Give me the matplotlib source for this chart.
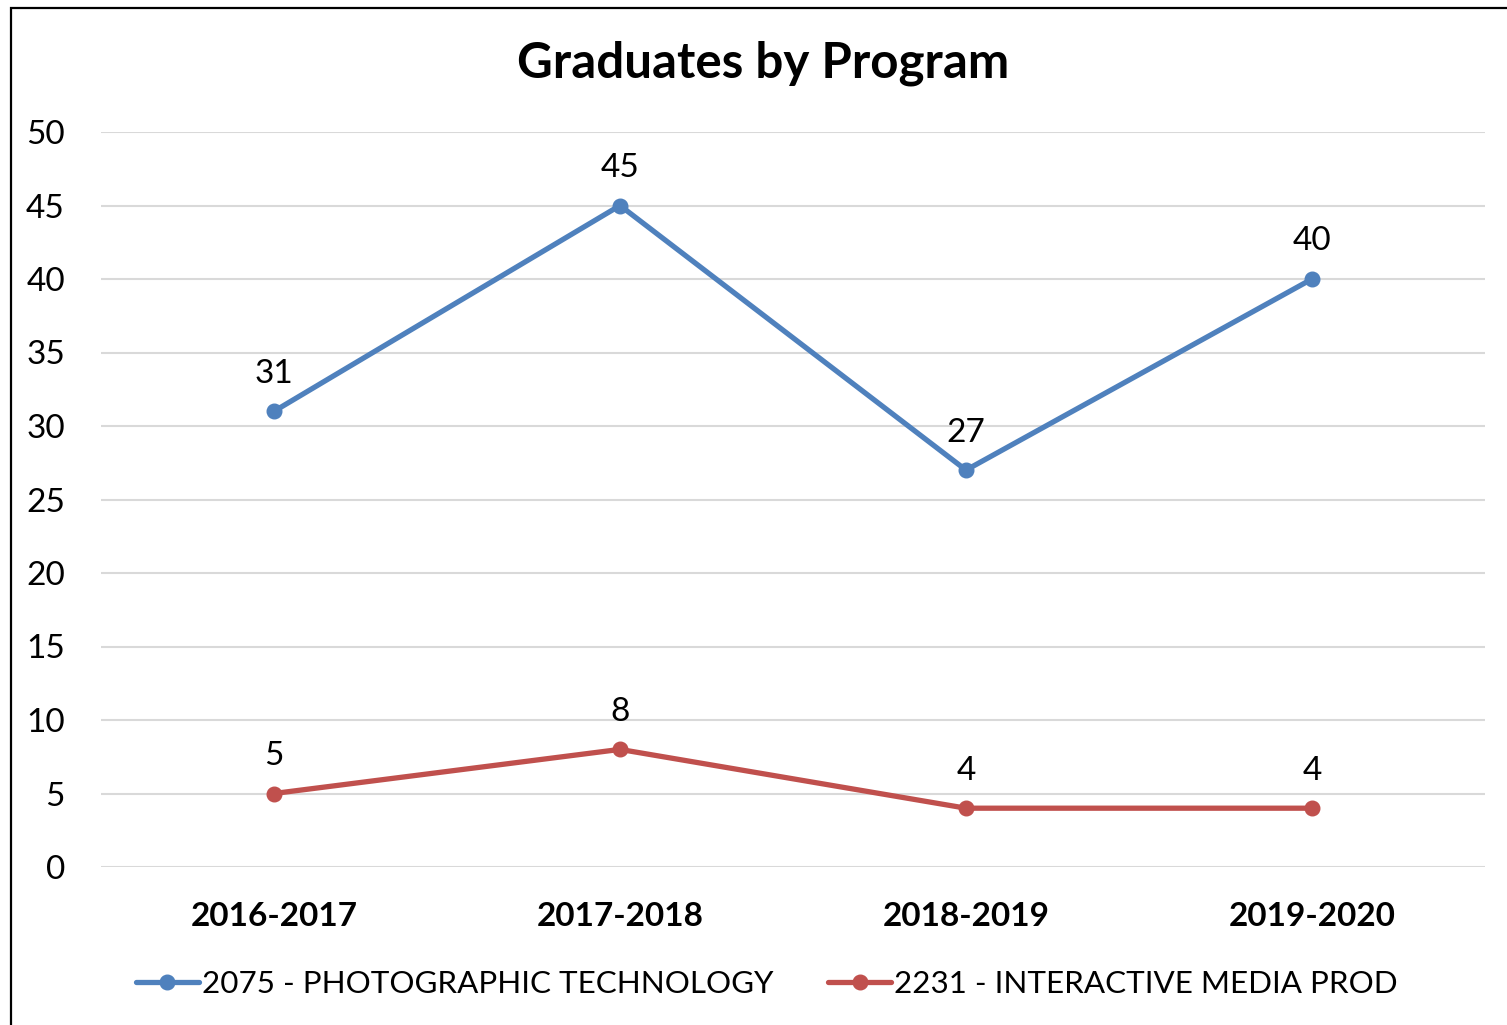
import matplotlib
matplotlib.use("Agg")
import matplotlib.pyplot as plt
from matplotlib.patches import Rectangle

plt.rcParams['font.family'] = ['Lato', 'DejaVu Sans']

years = ["2016-2017", "2017-2018", "2018-2019", "2019-2020"]
photo = [31, 45, 27, 40]
media = [5, 8, 4, 4]
photo_name = "2075 - PHOTOGRAPHIC TECHNOLOGY"
media_name = "2231 - INTERACTIVE MEDIA PROD"
yticks = [0, 5, 10, 15, 20, 25, 30, 35, 40, 45, 50]

W, H = 1507, 1025
fig = plt.figure(figsize=(W / 100, H / 100), dpi=100)
ax = fig.add_axes([101 / W, 1 - 867 / H, 1384 / W, 735 / H])

blue = "#4F81BD"
red = "#C0504D"
x = range(len(years))

ax.plot(x, photo, color=blue, lw=3.8, marker='o', ms=10.5, label=photo_name,
        solid_capstyle='round', zorder=3)
ax.plot(x, media, color=red, lw=3.8, marker='o', ms=10.5, label=media_name,
        solid_capstyle='round', zorder=3)

# data labels above each point
for series in (photo, media):
    for i, v in enumerate(series):
        ax.annotate(str(v), (i, v), xytext=(0, 27), textcoords='offset points',
                    ha='center', va='center', fontsize=24)

ax.set_xlim(-0.5, 3.5)
ax.set_ylim(0, 50)
ax.set_yticks(yticks)
ax.set_xticks(list(x))
ax.set_xticklabels(years, fontsize=24, fontweight='bold')
ax.tick_params(axis='y', labelsize=24, length=0, pad=26)
ax.tick_params(axis='x', length=0, pad=25)
ax.grid(axis='y', color='#D9D9D9', lw=1.5)
ax.set_axisbelow(True)
for s in ax.spines.values():
    s.set_visible(False)

fig.text(763 / W, 1 - 63 / H, "Graduates by Program", ha='center', va='center',
         fontsize=35.5, fontweight='bold')

fig.legend(loc='center', bbox_to_anchor=(767 / W, 1 - 984 / H), ncol=2,
           frameon=False, fontsize=22.6, handlelength=2.0, handletextpad=0.1,
           columnspacing=1.75)

fig.patches.append(Rectangle((11 / W, -0.5), 1.5, 1 - 8 / H + 0.5,
                             transform=fig.transFigure, fill=False,
                             edgecolor='black', lw=1.6))

fig.savefig("out.png", dpi=100)
